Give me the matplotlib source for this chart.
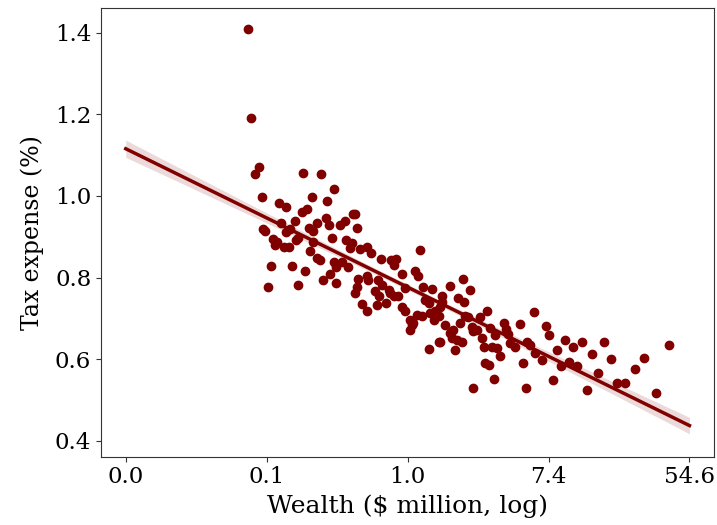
import numpy as np
import matplotlib
matplotlib.use('Agg')
import matplotlib.pyplot as plt

# log of wealth ($ million) and tax expense (%) per account
log_wealth = [
    -2.27, -2.22,
    -2.11, -2.16, -1.49, -1.23, -1.04, -2.07, -1.36, -1.83, -1.72, -1.14,
    -1.50, -1.43, -1.16, -1.60, -1.80, -1.29, -1.12, -2.05, -2.02, -1.67,
    -1.73, -1.40, -1.34, -1.08, -1.91, -1.86, -1.88, -1.55, -1.59, -1.34,
    -1.76, -1.68, -1.39, -1.28, -1.24, -1.04, -1.01, -1.94, -1.64, -1.46,
    -1.10, -1.20, -1.01, -1.98, -1.55,
    -0.78, -0.75, -0.89, -0.96, -0.72, -0.87, -0.79, -0.82, -0.67, -0.57,
    -0.52, -0.38, -0.23, -0.16, -0.19, 0.18, -0.93, -0.84, 0.11, -0.08, 0.15,
    -0.70, -0.58, -0.56, -0.42, -0.37, -0.27, -0.72, -0.75, -0.46, -0.41,
    -0.25, -0.20, -0.13, -0.04, 0.22, 0.35, 0.49, 0.25, 0.30, -0.30, -0.44,
    -0.65, -0.58, -0.08, -0.04, 0.04, 0.08, 0.13, 0.20, 0.32, 0.39, 0.37,
    0.44, 0.04, 0.06, 0.49, 0.44, 0.31, 0.53,
    0.78, 0.60, 0.88, 0.72, 0.80, 0.46, 1.13, 1.79, 0.82, 0.86, 1.03,
    0.75, 0.65, 0.60, 0.91, 0.93, 0.98, 0.46, 0.63, 0.70, 0.77, 0.67, 1.17,
    1.24, 1.37, 1.39, 1.43, 1.60, 1.05, 1.08, 1.20, 1.27, 1.31, 1.46, 1.53,
    1.69, 1.74, 1.81, 1.91, 1.97, 2.00, 1.10, 1.15, 1.64, 1.23, 0.93, 1.68,
    2.23, 2.47, 2.78, 2.12, 2.35, 2.62, 2.89, 3.36, 3.71, 2.29, 2.18, 2.41,
    3.22, 2.70, 2.07, 2.97, 3.09, 2.55, 3.52,
]
tax_expense = [
    1.410, 1.191,
    1.072, 1.054, 1.056, 1.054, 1.017, 0.997, 0.997, 0.984, 0.972, 0.987,
    0.962, 0.969, 0.947, 0.938, 0.934, 0.934, 0.929, 0.919, 0.913, 0.919,
    0.911, 0.921, 0.913, 0.898, 0.894, 0.888, 0.880, 0.897, 0.891, 0.888,
    0.874, 0.874, 0.866, 0.849, 0.844, 0.838, 0.827, 0.829, 0.829, 0.817,
    0.809, 0.795, 0.788, 0.776, 0.781,
    0.956, 0.956, 0.938, 0.929, 0.921, 0.893, 0.885, 0.872, 0.871, 0.875,
    0.860, 0.845, 0.842, 0.845, 0.831, 0.868, 0.839, 0.827, 0.817, 0.809, 0.803,
    0.796, 0.803, 0.793, 0.795, 0.782, 0.770, 0.778, 0.762, 0.766, 0.755,
    0.762, 0.754, 0.754, 0.774, 0.778, 0.772, 0.754, 0.746, 0.738, 0.738, 0.733,
    0.735, 0.717, 0.729, 0.717, 0.697, 0.688, 0.709, 0.705, 0.713, 0.717, 0.697,
    0.705, 0.672, 0.684, 0.741, 0.643, 0.625, 0.684,
    0.797, 0.780, 0.770, 0.750, 0.741, 0.728, 0.719, 0.715, 0.706, 0.703, 0.703,
    0.688, 0.672, 0.664, 0.680, 0.668, 0.672, 0.643, 0.652, 0.648, 0.643, 0.623, 0.676,
    0.660, 0.689, 0.675, 0.662, 0.687, 0.652, 0.630, 0.631, 0.627, 0.607, 0.639, 0.631,
    0.643, 0.635, 0.615, 0.599, 0.682, 0.660, 0.590, 0.586, 0.590, 0.551, 0.529, 0.529,
    0.646, 0.641, 0.643, 0.623, 0.629, 0.613, 0.600, 0.603, 0.634, 0.594, 0.584, 0.584,
    0.576, 0.567, 0.548, 0.541, 0.541, 0.525, 0.517,
]
xticks = [-4, -2, 0, 2, 4]

color = '#800000'
plt.rcParams['font.family'] = 'DejaVu Serif'

x = np.array(log_wealth)
y = np.array(tax_expense)

# least squares line and a confidence band for the mean
slope, intercept = np.polyfit(x, y, 1)
n = len(x)
resid = y - (intercept + slope * x)
s = np.sqrt(np.sum(resid ** 2) / (n - 2))
grid = np.linspace(-4, 4, 100)
fit = intercept + slope * grid
se = s * np.sqrt(1 / n + (grid - x.mean()) ** 2 / np.sum((x - x.mean()) ** 2))
band = 1.2 * se

fig, ax = plt.subplots(figsize=(7.17, 5.25), dpi=100)
fig.subplots_adjust(left=0.141, right=0.996, top=0.985, bottom=0.13)

ax.scatter(x, y, s=36, color=color, zorder=3)
ax.plot(grid, fit, color=color, linewidth=2.5, zorder=4)
ax.fill_between(grid, fit - band, fit + band, color=color, alpha=0.15, linewidth=0)

ax.set_xlim(-4.35, 4.35)
ax.set_ylim(0.361, 1.461)
ax.set_xticks(xticks)
ax.set_xticklabels(['%.1f' % np.exp(t) for t in xticks])
ax.set_yticks([0.4, 0.6, 0.8, 1.0, 1.2, 1.4])
ax.tick_params(labelsize=16.5, color='#333333')
for sp in ax.spines.values():
    sp.set_color('#333333')

ax.set_xlabel('Wealth ($ million, log)', fontsize=18)
ax.set_ylabel('Tax expense (%)', fontsize=17, labelpad=8)

fig.savefig('out.png', dpi=100)
